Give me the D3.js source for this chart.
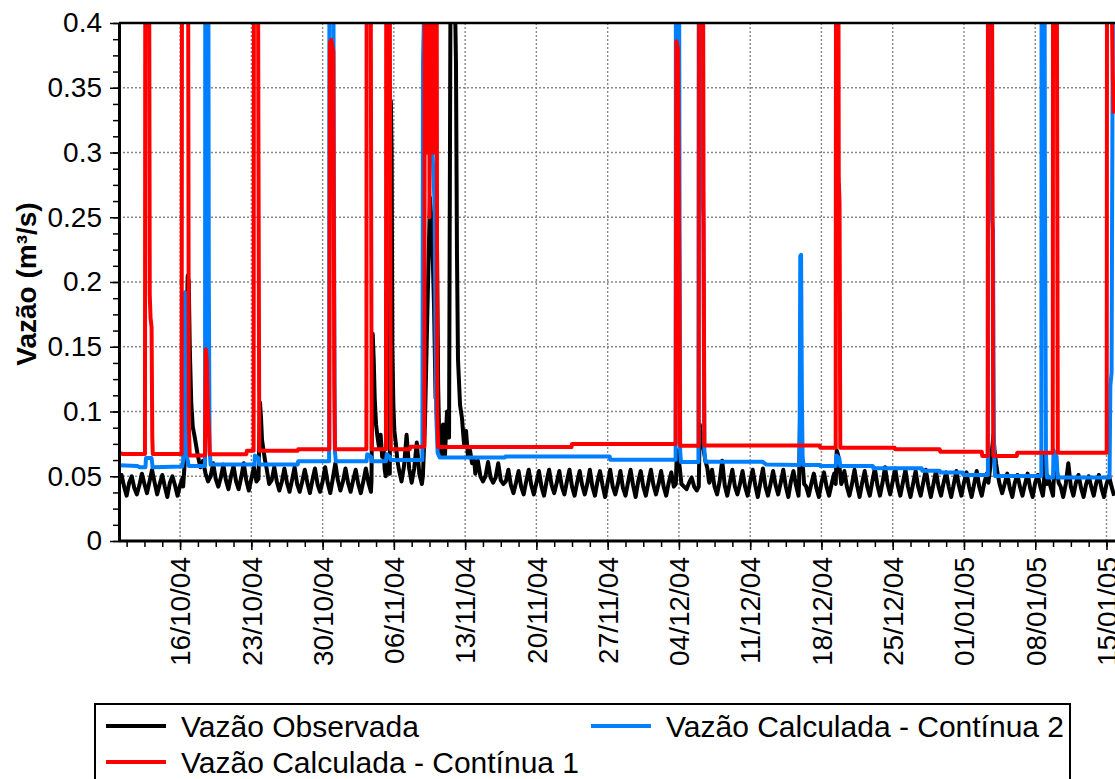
<!DOCTYPE html>
<html>
<head>
<meta charset="utf-8">
<script src="https://cdn.jsdelivr.net/npm/d3@7"></script>
<style>
  html, body { margin: 0; padding: 0; background: #fff; }
  svg { display: block; font-family: "Liberation Sans", Arial, sans-serif; }
</style>
</head>
<body>
<svg id="chart" width="1115" height="779"></svg>
<script>
// Time axis: days counted from 10/10/2004 00:00 (UTC)
const START = Date.UTC(2004, 9, 10);
const DAY = 864e5;
const END_DAY = 97.64;

const xTickLabels = ["16/10/04", "23/10/04", "30/10/04", "06/11/04", "13/11/04", "20/11/04",
  "27/11/04", "04/12/04", "11/12/04", "18/12/04", "25/12/04", "01/01/05", "08/01/05", "15/01/05"];
const yTicks = [0, 0.05, 0.1, 0.15, 0.2, 0.25, 0.3, 0.35, 0.4];

// Observed flow, 6-hourly readings (L/s): one row per day at 00h, 06h, 12h, 18h
const obsBaseLps = [
  44,51,42,35, 45,50,41,36, 43,52,44,37, 46,55,45,36, 44,51,42,34, 45,50,43,35, 43,49,41,34,
  62,70,60,55, 55,62,52,46, 50,60,48,42, 49,59,47,40, 50,58,46,40, 49,60,47,39, 48,57,46,40,
  52,60,50,44, 47,57,46,39, 46,56,45,38, 47,57,44,38, 46,55,45,37, 47,56,44,38, 46,57,45,37,
  48,60,47,39, 46,56,45,38, 47,55,44,37, 46,56,45,38, 60,72,58,50, 55,62,52,48, 60,78,55,46,
  58,82,56,45, 56,76,52,44, 70,90,80,70, 80,95,85,75, 90,110,95,85, 80,90,75,70, 62,70,60,55,
  52,62,50,46, 50,61,49,45, 49,60,47,44, 46,55,43,37, 45,54,42,36, 46,55,43,36, 45,54,42,35,
  46,55,43,37, 45,54,42,36, 46,55,42,35, 45,54,43,36, 44,55,42,35, 46,54,43,34, 45,55,42,36,
  44,54,41,35, 45,55,43,34, 46,54,42,35, 45,55,43,36, 44,54,42,35, 45,53,42,36, 44,48,42,40,
  45,49,42,39, 52,58,48,40, 45,55,42,36, 46,62,43,35, 45,55,42,36, 44,54,42,35, 46,55,43,34,
  45,56,42,35, 44,54,43,36, 45,55,42,34, 46,54,43,35, 45,53,42,35, 44,52,41,34, 45,53,42,35,
  44,52,42,34, 45,54,42,35, 44,55,43,34, 45,54,42,35, 46,56,43,35, 45,57,44,36, 46,56,43,35,
  45,55,42,34, 44,54,42,35, 45,55,43,34, 44,54,42,35, 45,53,42,34, 44,54,43,35, 45,53,42,34,
  44,54,42,35, 45,52,43,35, 48,55,44,37, 44,52,41,34, 45,51,42,35, 44,52,41,34, 45,51,42,35,
  44,50,42,35, 45,55,42,34, 44,60,42,35, 45,51,41,34, 44,50,42,35, 45,51,41,34, 44,50,42,35
];

// Observed flow during storm events (day, L/s)
const obsEventsLps = [
  [[6.3,42],[6.45,60],[6.6,150],[6.75,205],[6.85,200],[6.95,150],[7.1,106],[7.25,88],[7.4,82],[7.55,75],[7.7,68],[7.85,62],[8.0,57]],
  [[13.7,48],[13.85,107],[13.95,95],[14.05,78],[14.2,70],[14.35,62],[14.5,56]],
  [[24.8,46],[24.92,160],[25.02,140],[25.12,110],[25.25,90],[25.4,80],[25.55,72],[25.7,82],[25.85,65],[26.0,70],[26.1,55],[26.2,50]],
  [[26.6,52],[26.7,340],[26.78,300],[26.85,150],[26.95,105],[27.05,85],[27.2,75],[27.35,62]],
  [[29.85,50],[30.05,90],[30.3,180],[30.55,265],[30.75,240],[30.95,180],[31.1,110],[31.24,225],[31.35,120],[31.45,80],
   [31.63,65],[31.83,90],[32.02,66],[32.22,100],[32.42,80],[32.56,420],[32.8,600],[33.0,420],[33.1,370],[33.2,220],
   [33.3,140],[33.5,105],[33.69,95],[33.89,75],[34.09,85],[34.28,65],[34.48,70],[34.68,60],[34.9,62],[35.0,52]],
  [[54.7,44],[54.8,70],[54.95,66],[55.1,55],[55.25,44]],
  [[56.95,42],[57.05,90],[57.2,80],[57.4,72],[57.6,62],[57.8,56],[57.95,46]],
  [[66.8,44],[66.9,97],[66.98,90],[67.05,65],[67.2,55],[67.3,44]],
  [[70.4,44],[70.5,70],[70.65,66],[70.8,55],[70.95,44]],
  [[85.4,45],[85.6,58],[85.9,82],[86.0,70],[86.15,60],[86.35,50]],
  [[90.85,42],[90.95,68],[91.05,55],[91.15,44]],
  [[91.8,44],[91.9,57],[92.1,56],[92.3,45]]
];

// Simulated flow, Contínua 1 (day, m³/s)
const calc1 = [
  [0,0.068],[0.4,0.0672],
  [2.55,0.0672],[2.62,0.9],[2.8,1.1],[2.95,0.5],[3.02,0.19],[3.1,0.172],[3.2,0.165],[3.27,0.08],[3.32,0.0672],
  [6.15,0.0672],[6.2,0.6],[6.4,1.4],[6.6,1.2],[6.78,0.5],[6.86,0.09],[6.95,0.066],
  [8.45,0.066],[8.52,0.148],[8.62,0.14],[8.72,0.105],[8.84,0.085],[8.92,0.067],
  [12.5,0.067],[12.56,0.0697],
  [13.22,0.0697],[13.28,0.8],[13.5,0.9],[13.7,0.3],[13.78,0.0697],
  [17.55,0.0697],[17.6,0.0708],
  [20.66,0.0708],[20.72,0.385],[20.85,0.387],[21.05,0.378],[21.15,0.12],[21.22,0.0708],
  [24.3,0.0708],[24.36,0.9],[24.6,1.0],[24.76,0.3],[24.82,0.0708],
  [26.22,0.0708],[26.28,0.8],[26.5,0.9],[26.64,0.25],[26.7,0.0708],
  [28.56,0.0708],[28.62,0.0728],
  [30.0,0.0728],[30.06,0.8],[30.2,1.2],[30.3,0.3],[30.38,0.9],[30.5,0.25],[30.58,1.0],[30.7,0.3],
  [30.78,1.0],[30.9,0.3],[30.98,0.9],[31.1,0.3],[31.18,0.6],[31.26,0.1],[31.35,0.0725],
  [44.45,0.0725],[44.5,0.0749],
  [54.68,0.0749],[54.75,0.386],[54.9,0.38],[55.05,0.2],[55.12,0.0736],
  [56.95,0.0736],[57.0,0.8],[57.25,0.9],[57.42,0.27],[57.5,0.0737],
  [68.84,0.0737],[68.88,0.072],
  [70.4,0.072],[70.45,0.7],[70.6,0.8],[70.7,0.28],[70.78,0.26],[70.85,0.072],
  [76.2,0.072],[76.25,0.0708],
  [80.62,0.0708],[80.67,0.069],
  [84.75,0.069],[84.8,0.0656],
  [85.33,0.0656],[85.38,0.8],[85.6,0.9],[85.8,0.3],[85.88,0.0656],
  [88.19,0.0656],[88.23,0.0682],
  [91.72,0.0682],[91.78,0.8],[92.0,0.9],[92.16,0.3],[92.22,0.0682],
  [97.02,0.0682],[97.08,0.8],[97.4,0.9],[97.55,0.4],[97.62,0.36],[97.7,0.33]
];

// Simulated flow, Contínua 2 (day, m³/s)
const calc2 = [
  [0,0.0585],[1.8,0.058],[2.0,0.057],
  [2.6,0.057],[2.65,0.064],[3.2,0.064],[3.3,0.057],
  [6.2,0.0575],[6.3,0.062],[6.42,0.19],[6.5,0.192],[6.58,0.07],[6.75,0.062],[6.85,0.058],
  [8.45,0.058],[8.5,0.8],[8.7,0.9],[8.82,0.2],[8.9,0.07],[9.0,0.059],
  [13.3,0.059],[13.35,0.066],[13.7,0.064],[13.78,0.059],
  [17.55,0.059],[17.6,0.0615],
  [20.64,0.0615],[20.7,0.9],[20.9,1.0],[21.1,0.3],[21.2,0.07],[21.3,0.0615],
  [24.32,0.0615],[24.38,0.067],[24.75,0.065],[24.82,0.0615],
  [26.22,0.0615],[26.3,0.067],[26.6,0.065],[26.7,0.0625],
  [29.8,0.0625],[29.86,0.37],[30.0,0.42],[30.3,0.5],[30.8,0.3],[31.0,0.26],[31.15,0.1],[31.3,0.068],[31.5,0.0645],
  [37.9,0.0645],[37.95,0.0652],
  [48.2,0.0652],[48.25,0.0628],
  [54.68,0.0628],[54.73,0.9],[54.9,1.0],[55.05,0.3],[55.12,0.07],[55.2,0.061],
  [56.92,0.061],[56.97,0.8],[57.1,0.9],[57.3,0.27],[57.4,0.25],[57.5,0.07],[57.6,0.0612],
  [63.2,0.0612],[63.6,0.059],
  [66.85,0.0587],[66.92,0.22],[67.0,0.221],[67.08,0.11],[67.15,0.065],[67.25,0.0587],
  [68.84,0.0587],[68.88,0.058],
  [70.4,0.058],[70.48,0.066],[70.75,0.064],[70.85,0.058],
  [74.05,0.058],[74.1,0.0561],
  [78.86,0.0561],[78.9,0.0543],
  [80.63,0.0543],[80.67,0.0528],
  [82.89,0.0528],[82.93,0.051],
  [85.35,0.051],[85.4,0.9],[85.6,1.0],[85.75,0.25],[85.85,0.24],[85.95,0.07],[86.05,0.0502],
  [90.6,0.0502],[90.65,0.9],[90.8,1.0],[90.95,0.3],[91.05,0.07],[91.15,0.049],
  [91.75,0.049],[91.8,0.07],[92.1,0.065],[92.2,0.049],
  [97.3,0.049],[97.38,0.12],[97.5,0.13],[97.6,0.36],[97.7,0.5]
];

const seriesNames = ["Vazão Observada", "Vazão Calculada - Contínua 2", "Vazão Calculada - Contínua 1"];
const seriesColors = ["#000000", "#0080ff", "#ff0000"];

// ---- build the observed series: regular readings, replaced inside event windows
const obsBase = obsBaseLps.map((v, i) => [i * 0.25, v / 1000]);
const obsEvents = obsEventsLps.map(ev => ev.map(([d, v]) => [d, v / 1000]));
const obs = obsBase
  .filter(([d]) => !obsEvents.some(ev => d >= ev[0][0] && d <= ev[ev.length - 1][0]))
  .concat(...obsEvents)
  .sort((a, b) => a[0] - b[0]);

// ---- layout
const L = 119, R = 1113, T = 23, B = 541;
const toDate = d => new Date(START + d * DAY);
const parseTick = d3.utcParse("%d/%m/%y");
const xMajor = xTickLabels.map(parseTick);

const x = d3.scaleUtc().domain([toDate(0), toDate(END_DAY)]).range([L, R]);
const y = d3.scaleLinear().domain([0, 0.4]).range([B, T]);

// minor ticks: four per week, aligned on the major ticks
const step = 7 * DAY / 4;
const xMinor = d3.range(-3, 60).map(k => new Date(+xMajor[0] + k * step))
  .filter(t => t >= x.domain()[0] && t <= x.domain()[1]);
const yMinor = d3.range(0, 33).map(k => k * 0.0125);

const svg = d3.select("#chart");
svg.append("rect").attr("width", 1115).attr("height", 779).attr("fill", "#fff");

// grid
const grid = svg.append("g").attr("stroke", "#888").attr("stroke-width", 1.4)
  .attr("stroke-dasharray", "2,2");
grid.selectAll("line.gx").data(xMajor).join("line")
  .attr("x1", d => x(d)).attr("x2", d => x(d)).attr("y1", T).attr("y2", B);
grid.selectAll("line.gy").data(yTicks.filter(v => v > 0 && v < 0.4)).join("line")
  .attr("x1", L).attr("x2", R).attr("y1", d => y(d)).attr("y2", d => y(d));

// series
svg.append("clipPath").attr("id", "plot")
  .append("rect").attr("x", L).attr("y", T).attr("width", R - L + 2).attr("height", B - T);
const line = d3.line().x(d => x(toDate(d[0]))).y(d => y(d[1]));
const plot = svg.append("g").attr("clip-path", "url(#plot)");
[obs, calc2, calc1].forEach((s, i) => {
  plot.append("path").datum(s).attr("d", line)
    .attr("fill", "none").attr("stroke", seriesColors[i]).attr("stroke-width", 4)
    .attr("stroke-linejoin", "round");
});

// top border of the plot
svg.append("line").attr("x1", L).attr("x2", 1115).attr("y1", T).attr("y2", T)
  .attr("stroke", "#000").attr("stroke-width", 2.5);

// axes
const fontSize = 28;
const yAxis = svg.append("g").attr("transform", `translate(${L},0)`)
  .call(d3.axisLeft(y).tickValues(yTicks).tickSize(9).tickSizeOuter(0).tickPadding(8)
    .tickFormat(d => String(+d.toFixed(2))));
svg.append("g").attr("transform", `translate(${L},0)`)
  .call(d3.axisLeft(y).tickValues(yMinor).tickSize(6).tickSizeOuter(0).tickFormat(""))
  .select(".domain").remove();

const xAxis = svg.append("g").attr("transform", `translate(0,${B})`)
  .call(d3.axisBottom(x).tickValues(xMajor).tickSize(9).tickSizeOuter(0)
    .tickFormat(d3.utcFormat("%d/%m/%y")));
svg.append("g").attr("transform", `translate(0,${B})`)
  .call(d3.axisBottom(x).tickValues(xMinor).tickSize(6).tickSizeOuter(0).tickFormat(""))
  .select(".domain").remove();

svg.selectAll(".tick line").attr("stroke", "#000").attr("stroke-width", 1.5);
[yAxis, xAxis].forEach(a => a.select(".domain").attr("stroke", "#000").attr("stroke-width", 3));
xAxis.select(".domain").attr("d", `M${L},0H1115`);
yAxis.selectAll("text").attr("font-size", fontSize).attr("fill", "#000")
  .attr("font-family", "'Liberation Sans', Arial, sans-serif");
xAxis.selectAll("text").attr("font-size", fontSize).attr("fill", "#000")
  .attr("font-family", "'Liberation Sans', Arial, sans-serif")
  .attr("text-anchor", "end").attr("transform", "rotate(-90)")
  .attr("x", -16).attr("y", 0).attr("dy", "0.35em");

// y axis title
svg.append("text").attr("transform", "translate(36,284) rotate(-90)")
  .attr("text-anchor", "middle").attr("font-size", 28).attr("font-weight", "bold")
  .text("Vazão (m³/s)");

// legend
const lg = svg.append("g");
lg.append("rect").attr("x", 95).attr("y", 704).attr("width", 975).attr("height", 100)
  .attr("fill", "#fff").attr("stroke", "#000").attr("stroke-width", 2);
const legendItems = [
  { name: seriesNames[0], color: seriesColors[0], x: 106, y: 737 },
  { name: seriesNames[1], color: seriesColors[1], x: 591, y: 737 },
  { name: seriesNames[2], color: seriesColors[2], x: 106, y: 773 }
];
legendItems.forEach(it => {
  lg.append("line").attr("x1", it.x).attr("x2", it.x + 60)
    .attr("y1", it.y - 11).attr("y2", it.y - 11)
    .attr("stroke", it.color).attr("stroke-width", 4);
  lg.append("text").attr("x", it.x + 75).attr("y", it.y)
    .attr("font-size", 30).attr("fill", "#000").text(it.name);
});
</script>
</body>
</html>
